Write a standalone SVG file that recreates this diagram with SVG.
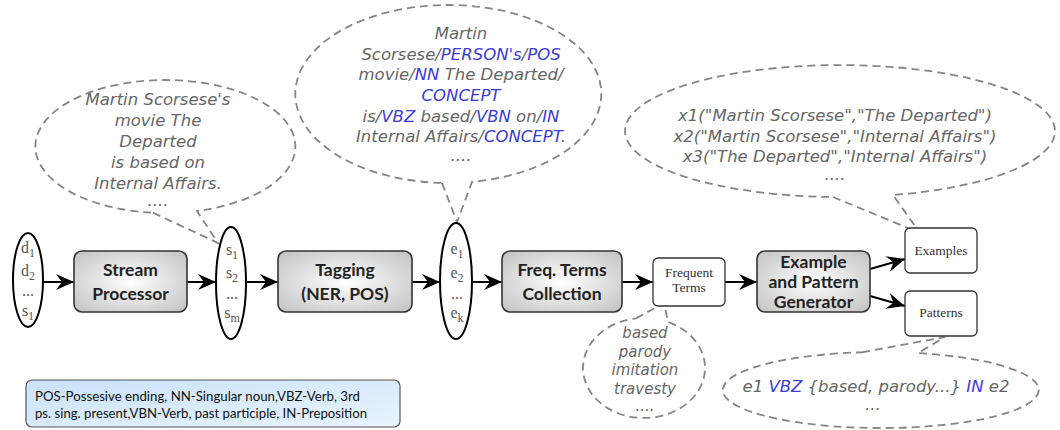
<svg xmlns="http://www.w3.org/2000/svg" width="1060" height="430" viewBox="0 0 1060 430">
<defs>
<radialGradient id="boxg" cx="50%" cy="50%" r="65%">
<stop offset="0" stop-color="#ffffff"/>
<stop offset="1" stop-color="#c6c6c6"/>
</radialGradient>
<linearGradient id="legg" x1="0" y1="0" x2="1" y2="1">
<stop offset="0" stop-color="#c9e2fa"/>
<stop offset="1" stop-color="#e9f4fe"/>
</linearGradient>
<marker id="ah" markerWidth="20" markerHeight="18" viewBox="-20 -9 20 18" refX="0" refY="0" orient="auto" markerUnits="userSpaceOnUse">
<path d="M0,0 L-18,-8 L-12,0 L-18,8 Z" fill="#000"/>
</marker>
</defs>
<style>
.call{fill:none;stroke:#858585;stroke-width:1.8;stroke-dasharray:8 5}
.ct{font-family:"DejaVu Sans",Verdana,sans-serif;font-style:italic;font-size:16.5px;fill:#666;text-anchor:middle}
.ct2{font-family:"DejaVu Sans",Verdana,sans-serif;font-style:italic;font-size:15px;fill:#666;text-anchor:middle}
.b{fill:#3c3cd8}
.box{fill:url(#boxg);stroke:#333;stroke-width:1.6}
.bt{font-family:Lato,"Open Sans",sans-serif;font-weight:700;font-size:17.5px;fill:#222;text-anchor:middle}
.sb{fill:#fff;stroke:#333;stroke-width:1.3}
.st{font-family:"Liberation Serif","Times New Roman",serif;font-size:13.5px;fill:#333;text-anchor:middle}
.el{fill:#fff;stroke:#000;stroke-width:2}
.et{font-family:"Liberation Serif","Times New Roman",serif;font-size:16px;fill:#555;text-anchor:middle}
.sub{font-size:12px}
.con{stroke:#000;stroke-width:2;fill:none;marker-end:url(#ah)}
.lt{font-family:Lato,"Open Sans",sans-serif;font-size:13.5px;fill:#111}
</style>

<g id="callouts">
<g id="callout-sentence">
<path class="call" d="M153,212.7 L218,243 L197,211 A130,66.5 0 1 0 153,212.7"/>
<text class="ct" x="158" y="105">Martin Scorsese's</text>
<text class="ct" x="158" y="126">movie The</text>
<text class="ct" x="158" y="147">Departed</text>
<text class="ct" x="158" y="168">is based on</text>
<text class="ct" x="158" y="189">Internal Affairs.</text>
<text class="ct" x="158" y="206">....</text>
</g>
<g id="callout-tagged">
<path class="call" d="M442,182.9 L457,222 L472,181.9 A153,89 0 1 0 442,182.9"/>
<text class="ct" x="461" y="39">Martin</text>
<text class="ct" x="461" y="59.5">Scorsese/<tspan class="b">PERSON's</tspan>/<tspan class="b">POS</tspan></text>
<text class="ct" x="461" y="80">movie/<tspan class="b">NN</tspan> The Departed/</text>
<text class="ct" x="461" y="101"><tspan class="b">CONCEPT</tspan></text>
<text class="ct" x="461" y="121.5">is/<tspan class="b">VBZ</tspan> based/<tspan class="b">VBN</tspan> on/<tspan class="b">IN</tspan></text>
<text class="ct" x="461" y="142">Internal Affairs/<tspan class="b">CONCEPT</tspan>.</text>
<text class="ct" x="461" y="161">....</text>
</g>
<g id="callout-examples">
<path class="call" d="M833,197 L920,233 L893,195 A215,66 0 1 0 833,197"/>
<text class="ct" x="835" y="121">x1("Martin Scorsese","The Departed")</text>
<text class="ct" x="835" y="141.5">x2("Martin Scorsese","Internal Affairs")</text>
<text class="ct" x="835" y="162">x3("The Departed","Internal Affairs")</text>
<text class="ct" x="835" y="180">....</text>
</g>
<g id="callout-terms">
<path class="call" d="M636,318.4 L664,303 L668,322 A61,50 0 1 1 636,318.4"/>
<text class="ct2" x="645" y="338">based</text>
<text class="ct2" x="645" y="356.5">parody</text>
<text class="ct2" x="645" y="375">imitation</text>
<text class="ct2" x="645" y="393.5">travesty</text>
<text class="ct2" x="645" y="411">....</text>
</g>
<g id="callout-patterns">
<path class="call" d="M862,352.3 L945,337 L918,353.1 A158,38 0 1 1 862,352.3"/>
<text class="ct" x="876" y="392">e1 <tspan class="b">VBZ</tspan> {based, parody...} <tspan class="b">IN</tspan> e2</text>
<text class="ct" x="873" y="410">...</text>
</g>
</g>

<g id="connectors">
<line class="con" x1="44" y1="282" x2="74" y2="282"/>
<line class="con" x1="187" y1="282" x2="216" y2="282"/>
<line class="con" x1="246" y1="282" x2="278" y2="282"/>
<line class="con" x1="412" y1="282" x2="440" y2="282"/>
<line class="con" x1="472" y1="282" x2="502" y2="282"/>
<line class="con" x1="622" y1="282" x2="653" y2="282"/>
<line class="con" x1="725" y1="282" x2="757" y2="282"/>
<line class="con" x1="870" y1="269" x2="905" y2="259"/>
<line class="con" x1="870" y1="296" x2="905" y2="306"/>
</g>

<g id="docs">
<ellipse class="el" cx="28" cy="280" rx="15" ry="47"/>
<text class="et" x="28" y="253">d<tspan class="sub" dy="4">1</tspan></text>
<text class="et" x="28" y="276">d<tspan class="sub" dy="4">2</tspan></text>
<text class="et" x="28" y="296">...</text>
<text class="et" x="28" y="316">s<tspan class="sub" dy="4">1</tspan></text>
</g>
<g id="stream-processor">
<rect class="box" x="74" y="251" width="113" height="61" rx="8"/>
<text class="bt" x="130.5" y="276">Stream</text>
<text class="bt" x="130.5" y="300">Processor</text>
</g>
<g id="sentences">
<ellipse class="el" cx="231" cy="283" rx="15" ry="56"/>
<text class="et" x="232" y="255">s<tspan class="sub" dy="4">1</tspan></text>
<text class="et" x="232" y="278">s<tspan class="sub" dy="4">2</tspan></text>
<text class="et" x="232" y="299">...</text>
<text class="et" x="232" y="318">s<tspan class="sub" dy="4">m</tspan></text>
</g>
<g id="tagging">
<rect class="box" x="278" y="251" width="134" height="61" rx="8"/>
<text class="bt" x="345" y="276">Tagging</text>
<text class="bt" x="345" y="300">(NER, POS)</text>
</g>
<g id="entities">
<ellipse class="el" cx="456" cy="281" rx="16" ry="58"/>
<text class="et" x="457" y="254">e<tspan class="sub" dy="4">1</tspan></text>
<text class="et" x="457" y="278">e<tspan class="sub" dy="4">2</tspan></text>
<text class="et" x="457" y="299">...</text>
<text class="et" x="457" y="318">e<tspan class="sub" dy="4">k</tspan></text>
</g>
<g id="freq-terms">
<rect class="box" x="502" y="251" width="120" height="61" rx="8"/>
<text class="bt" x="562" y="276">Freq. Terms</text>
<text class="bt" x="562" y="300">Collection</text>
</g>
<g id="frequent-terms">
<rect class="sb" x="653" y="258" width="72" height="48" rx="5"/>
<text class="st" x="689" y="277">Frequent</text>
<text class="st" x="689" y="292">Terms</text>
</g>
<g id="generator">
<rect class="box" x="757" y="251" width="113" height="61" rx="8"/>
<text class="bt" x="813.5" y="268">Example</text>
<text class="bt" x="813.5" y="288">and Pattern</text>
<text class="bt" x="813.5" y="308">Generator</text>
</g>
<g id="examples">
<rect class="sb" x="905" y="228" width="72" height="45" rx="5"/>
<text class="st" x="941" y="255">Examples</text>
</g>
<g id="patterns">
<rect class="sb" x="905" y="291" width="72" height="45" rx="5"/>
<text class="st" x="941" y="317">Patterns</text>
</g>
<g id="legend">
<rect x="26" y="380" width="374" height="47" rx="6" fill="url(#legg)" stroke="#555" stroke-width="1.2"/>
<text class="lt" x="35" y="401" textLength="325" lengthAdjust="spacingAndGlyphs">POS-Possesive ending, NN-Singular noun,VBZ-Verb, 3rd</text>
<text class="lt" x="35" y="418" textLength="332" lengthAdjust="spacingAndGlyphs">ps. sing. present,VBN-Verb, past participle, IN-Preposition</text>
</g>
</svg>
